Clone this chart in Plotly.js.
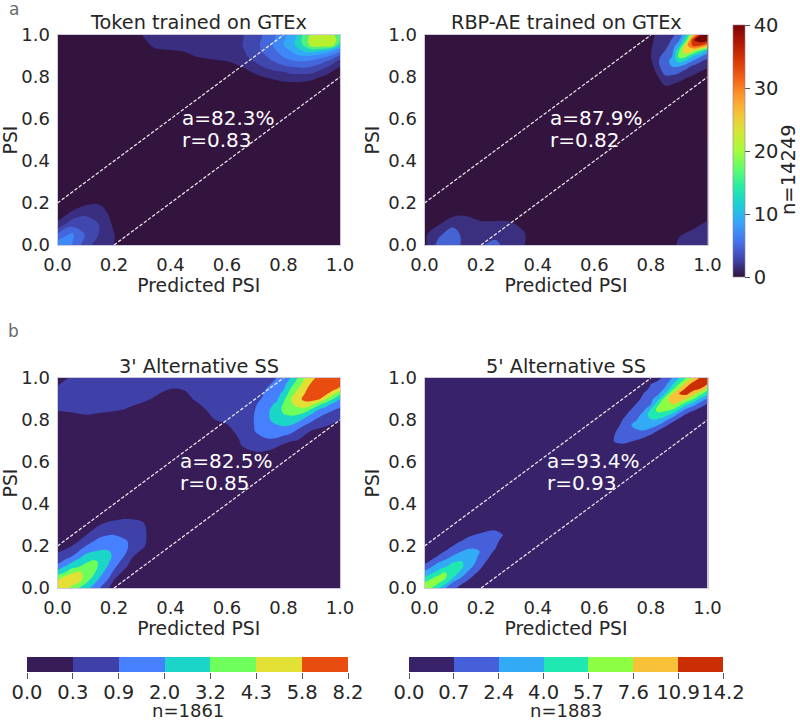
<!DOCTYPE html>
<html>
<head>
<meta charset="utf-8">
<script src="https://cdn.plot.ly/plotly-3.0.1.min.js"></script>
<style>html,body{margin:0;padding:0;background:#fff}#c{width:800px;height:721px}</style>
</head>
<body>
<div id="c"></div>
<script>
// Node positions of the coarse density grids (PSI)
const gridX = [0,.05,.1,.15,.2,.25,.3,.35,.4,.45,.5,.55,.6,.65,.7,.75,.8,.85,.9,.95,1];
const gridY = gridX;

// Density grids, bottom row first.
// Unit: position on the panel's own colour band scale (1 = first contour level, 2 = second ...).
const O = [0,0,0,0,0,0,0,0,0,0,0,0,0,0,0,0,0,0,0,0,0];
const tokenGTEx = [
 [4.6,4.0,2.4,1.4,1.0,0,0,0,0,0,0,0,0,0,0,0,0,0,0,0,0],
 [3.2,4.2,2.9,1.9,1.05,0,0,0,0,0,0,0,0,0,0,0,0,0,0,0,0],
 [1.2,2.6,2.9,1.9,.8,0,0,0,0,0,0,0,0,0,0,0,0,0,0,0,0],
 [.4,1.2,1.7,1.5,.6,0,0,0,0,0,0,0,0,0,0,0,0,0,0,0,0],
 [0,.3,.8,.9,.3,0,0,0,0,0,0,0,0,0,0,0,0,0,0,0,0],
 O,O,O,O,O,O,O,O,O,O,
 [0,0,0,0,0,0,0,0,0,0,0,0,0,0,.2,.4,.6,.5,.3,0,0],
 [0,0,0,0,0,0,0,0,0,0,0,0,.2,.5,.8,1.1,1.3,1.5,1.3,.8,.3],
 [0,0,0,0,0,0,0,0,0,.1,.3,.6,.8,1.0,1.5,1.9,1.9,1.9,1.9,1.9,1],
 [0,0,0,0,0,0,.2,.5,.6,.8,1.1,1.2,1.2,1.2,1.9,1.9,1.9,1.9,1.9,1.9,1.9],
 [0,0,0,0,0,.2,.7,1.2,1.3,1.3,1.3,1.3,1.3,1.4,1.9,1.9,1.9,1.9,1.9,1.9,1.9],
 [0,0,0,0,0,.4,1.0,1.3,1.3,1.3,1.3,1.3,1.3,1.4,1.9,1.9,1.9,1.9,1.9,1.9,1.9]
];
const rbpGTEx = [
 [.7,2.4,2.6,1.5,1.9,2.3,1.5,1.1,0,0,0,0,0,0,0,0,0,0,1.3,1.4,1.4],
 [.8,1.8,2.6,1.4,1.5,1.7,1.4,1.15,0,0,0,0,0,0,0,0,0,0,.9,1.3,1.4],
 [.2,.9,1.7,1.3,1.2,1.2,1.2,.7,0,0,0,0,0,0,0,0,0,0,.1,.7,1.2],
 [0,.1,.7,.9,.5,.5,.4,.1,0,0,0,0,0,0,0,0,0,0,0,.1,.6],
 O,O,O,O,O,O,O,O,O,O,O,
 [0,0,0,0,0,0,0,0,0,0,0,0,0,0,0,0,0,.8,.5,.1,0],
 [0,0,0,0,0,0,0,0,0,0,0,0,0,0,0,0,.1,1.8,1.4,.8,.4],
 [0,0,0,0,0,0,0,0,0,0,0,0,0,0,0,0,.8,1.9,1.9,1.8,1.1],
 [0,0,0,0,0,0,0,0,0,0,0,0,0,0,0,0,1.0,1.9,1.9,1.9,1.9],
 [0,0,0,0,0,0,0,0,0,0,0,0,0,0,0,0,.9,1.9,1.9,1.9,1.9],
 [0,0,0,0,0,0,0,0,0,0,0,0,0,0,0,0,.8,1.5,1.9,1.9,1.9]
];
const altSS3 = [
 [1.9,1.9,1.9,1.9,.5,.1,0,0,0,0,0,0,0,0,0,0,0,0,0,0,0],
 [1.9,1.9,1.9,1.9,1.15,.2,0,0,0,0,0,0,0,0,0,0,0,0,0,0,0],
 [1.9,1.9,1.9,1.9,1.9,.9,.2,0,0,0,0,0,0,0,0,0,0,0,0,0,0],
 [1.3,1.9,1.9,1.9,1.9,1.3,.5,0,0,0,0,0,0,0,0,0,0,0,0,0,0],
 [.5,1.0,1.9,1.9,1.9,1.9,1.2,.2,0,0,0,0,0,0,0,0,0,0,0,0,0],
 [.1,.4,1.0,1.5,1.9,1.7,1.3,.3,0,0,0,0,0,0,0,0,0,0,0,0,0],
 [0,0,.3,1.0,1.3,1.4,1.2,.2,0,0,0,0,0,0,0,0,0,0,0,0,0],
 [0,0,0,.2,.6,.7,.6,0,0,0,0,0,0,0,0,0,0,0,0,0,0],
 O,O,O,O,
 [0,0,0,0,0,0,0,0,0,0,0,0,0,0,.2,.3,.3,0,0,0,0],
 [0,0,0,0,0,0,0,0,0,0,0,0,0,.85,1.0,.9,.5,.3,0,0,0],
 [0,0,0,0,0,0,0,0,0,0,0,0,.1,1.1,1.5,1.8,1.2,.9,.3,.1,0],
 [0,0,0,0,0,0,0,0,0,0,0,.4,.7,1.4,1.9,1.9,1.9,1.9,1.0,.7,.3],
 [.6,.6,.8,.7,.5,.3,0,0,0,0,.5,.95,1.2,1.5,1.9,1.9,1.9,1.9,1.9,1.5,1.0],
 [1.05,1.15,1.2,1.15,1.1,.95,.7,.4,.2,.5,.8,1.2,1.3,1.5,1.9,1.9,1.9,1.9,1.9,1.9,1.9],
 [1.2,1.3,1.3,1.3,1.3,1.2,1.15,.9,.5,.8,1.15,1.3,1.3,1.5,1.8,1.9,1.9,1.9,1.9,1.9,1.9],
 [1.1,1.25,1.3,1.3,1.3,1.3,1.3,1.2,1.02,1.05,1.3,1.3,1.3,1.4,1.7,1.9,1.9,1.9,1.9,1.9,1.9],
 [.7,1.1,1.2,1.25,1.3,1.3,1.3,1.3,1.3,1.3,1.3,1.3,1.3,1.3,1.4,1.8,1.9,1.9,1.9,1.9,1.9]
];
const altSS5 = [O,O,O,O,O,O,O,O,O,O,O,O,O,
 [0,0,0,0,0,0,0,0,0,0,0,0,0,0,.2,0,0,0,0,0,0],
 O,O,O,O,O,O,O];

// Finer grids (step 0.025) for the densest regions, levels from `start` upward
const tokenHighX = [.625,.65,.675,.7,.725,.75,.775,.8,.825,.85,.875,.9,.925,.95,.975,1];
const tokenHighY = [.8,.825,.85,.875,.9,.925,.95,.975,1];
const tokenHigh = [
 [.8,1,1.2,1.3,1.4,1.5,1.6,1.7,1.7,1.6,1.5,1.5,1.3,1.05,.8,.4],
 [1,1.2,1.4,1.55,1.7,1.8,1.9,2,2.2,2.3,2.35,2.25,1.85,1.5,1.2,.9],
 [1.2,1.4,1.6,1.8,2,2.2,2.6,2.85,3.05,3.15,3.2,3,2.7,2.15,1.7,1.3],
 [1.3,1.6,1.85,2.05,2.4,2.8,3.15,3.5,3.85,4,4,3.8,3.5,3,2.3,1.7],
 [1.4,1.75,2.05,2.3,2.75,3.2,3.6,4.1,4.45,4.85,5,4.8,4.5,4.25,3.7,2.7],
 [1.4,1.85,2.15,2.5,3.1,3.5,4,4.6,5,5.6,6.2,6.5,6.2,5.7,5,4.3],
 [1.4,1.95,2.2,2.6,3.2,3.7,4.3,4.95,5.5,6.3,7.2,8.3,8.6,8.6,8.2,6],
 [1.4,1.9,2.2,2.6,3.1,3.6,4.2,4.9,5.5,6.3,7.7,8.4,8.7,8.7,8.4,7.6],
 [1.4,1.9,2.2,2.5,3,3.4,4,4.7,5.3,6.1,7.4,8.2,8.5,8.5,8.2,7.2]
];
const rbpHighX = [.8,.825,.85,.875,.9,.925,.95,.975,1];
const rbpHighY = [.775,.8,.825,.85,.875,.9,.925,.95,.975,1];
const rbpHigh = [
 [1.2,1.4,1.6,1.5,1.3,1,.8,.5,.2],
 [1.3,1.5,1.9,1.8,1.6,1.3,1,.7,.4],
 [1.4,1.7,2.2,2.35,2.15,1.6,1.4,1.1,.8],
 [1.5,1.8,2.5,3,3,2.4,1.75,1.5,1.1],
 [1.5,1.9,2.6,3.3,4.4,3.7,2.8,2.1,1.6],
 [1.5,1.8,2.3,3,5.4,5.3,4,3.2,2.4],
 [1.5,1.7,2,2.7,5,7,6,5,3.7],
 [1.5,1.6,1.7,2.4,3.7,6.7,8.3,8,7],
 [1.4,1.5,1.5,2.1,2.9,5,8.9,9.6,9.3],
 [1.3,1.4,1.2,1.8,2.4,4,6.5,9,9.6]
];
const ss3HighX = [.675,.7,.725,.75,.775,.8,.825,.85,.875,.9,.925,.95,.975,1];
const ss3HighY = [.7,.725,.75,.775,.8,.825,.85,.875,.9,.925,.95,.975,1];
const ss3High = [
 [1.5,1.6,1.8,1.85,1.8,1.6,1.4,1.2,1.1,1,.9,.9,.9,.9],
 [1.5,1.85,2.05,2.2,2.15,2,1.8,1.5,1.3,1.2,1,1,1,.9],
 [1.5,2.05,2.3,2.45,2.5,2.55,2.3,1.9,1.6,1.4,1.2,1,1,1],
 [1.5,2.1,2.5,2.75,2.95,3.1,3,2.5,2,1.7,1.4,1.3,1,1],
 [1.5,2.15,2.6,2.95,3.3,3.5,3.55,3.3,2.7,2.15,1.7,1.5,1.4,1.2],
 [1.5,2.1,2.6,3,3.6,3.95,4.1,4,3.5,2.85,2.3,1.85,1.65,1.5],
 [1.5,2,2.5,2.95,3.5,4.2,4.5,4.7,4.7,3.8,3,2.55,2.1,1.8],
 [1.5,1.9,2.3,2.8,3.15,4.1,4.8,5.3,5.6,5.3,4.3,3.5,2.75,2.4],
 [1.5,1.8,2.05,2.6,2.8,3.75,4.95,5.6,6.3,6.4,6.2,5,4,3],
 [1.5,1.7,1.9,2.4,2.6,3.3,4.4,5.4,6,6.6,6.6,6.3,5.2,4.25],
 [1.5,1.6,1.8,2.15,2.4,2.85,4,4.9,5.7,6.5,6.8,6.9,6.5,5.75],
 [1.5,1.5,1.7,1.9,2.2,2.6,3.5,4.4,5.35,6.1,6.6,7,7,6.7],
 [1.5,1.4,1.5,1.7,2,2.4,3,4,5,5.7,6.3,6.9,7,7]
];
const ss3LowX = [0,.025,.05,.075,.1,.125,.15,.175,.2,.225,.25,.275];
const ss3LowY = ss3LowX;
const ss3Low = [
 [5.6,5.5,4.8,4,3.4,2.7,2,1.3,.6,0,0,0],
 [5.3,5.7,5.3,5,4.1,3.3,2.5,1.8,1.1,.3,0,0],
 [4.6,5.3,5.6,5.5,4.6,3.9,3,2.25,1.5,.8,.3,0],
 [3.4,3.9,4.8,5.1,4.8,4.3,3.4,2.6,1.8,1.2,.7,.2],
 [2.4,3.1,3.7,4,4.5,4.5,3.75,3,2.2,1.5,1.1,.6],
 [1.7,2.2,2.9,3.4,3.8,4.2,3.9,3.3,2.5,1.9,1.4,1],
 [1.3,1.7,2,2.7,3.3,3.5,3.6,3.4,2.8,2.2,1.7,1.3],
 [1,1.3,1.6,2,2.7,2.95,3.1,3.1,2.85,2.45,1.9,1.5],
 [.6,1,1.3,1.6,2,2.45,2.6,2.7,2.7,2.5,2,1.5],
 [.3,.6,1,1.3,1.6,1.9,2.3,2.35,2.4,2.3,1.95,1.5],
 [.1,.3,.6,1,1.3,1.5,1.8,2,2.05,1.85,1.7,1.4],
 [0,.1,.2,.6,.9,1.2,1.4,1.5,1.6,1.5,1.4,1.2]
];
const ss5HighX = [.65,.675,.7,.725,.75,.775,.8,.825,.85,.875,.9,.925,.95,.975,1];
const ss5HighY = [.65,.675,.7,.725,.75,.775,.8,.825,.85,.875,.9,.925,.95,.975,1];
const ss5High = [
 [0,0,0,0,0,0,0,0,0,0,0,0,0,0,0],
 [0,.6,.8,.5,.3,0,0,0,0,0,0,0,0,0,0],
 [.5,1.15,1.2,1.1,.9,.7,.3,0,0,0,0,0,0,0,0],
 [.2,1.15,1.45,1.6,1.4,1.2,.85,.4,0,0,0,0,0,0,0],
 [0,.9,1.55,1.85,1.9,2,1.7,1,.5,.2,0,0,0,0,0],
 [0,.4,1.4,1.9,2.3,2.5,2.35,2,1.2,.6,.3,0,0,0,0],
 [0,0,1.05,1.7,2,2.8,2.9,2.85,2.25,1.4,.7,.4,0,0,0],
 [0,0,.6,1.3,1.6,2.4,3.5,3.65,3.4,2.7,1.6,.85,.4,0,0],
 [0,0,.2,.9,1.4,1.8,3.1,4.4,4.3,4,3,1.8,1.2,.7,.2],
 [0,0,0,.5,1.1,1.5,2,3.8,5,5,4.5,3.3,2.4,1.5,.9],
 [0,0,0,.1,.7,1.3,1.7,2.7,4.5,5.6,5.5,5,4,2.7,1.8],
 [0,0,0,0,.3,1.05,1.45,1.8,3,5,6,6.3,5.3,4.3,3.2],
 [0,0,0,0,0,.6,1.2,1.5,2.1,3.5,5,6.2,6.5,6,4.6],
 [0,0,0,0,0,.2,.95,1.2,1.6,2.7,3.9,5.3,6.3,6.7,6.3],
 [0,0,0,0,0,0,.6,.8,1.2,2,3,4,5,6.2,7]
];
const ss5LowX = [0,.025,.05,.075,.1,.125,.15,.175,.2,.225,.25,.275,.3];
const ss5LowY = ss5LowX;
const ss5Low = [
 [4.6,4,3,2,1.35,.7,.2,0,0,0,0,0,0],
 [4.1,4.5,4.1,3.3,1.9,1.3,.8,.3,0,0,0,0,0],
 [3.1,3.8,4.4,4.1,3.1,2.15,1.4,.75,.2,0,0,0,0],
 [2.2,2.7,3.4,4,3.7,2.85,2,1.25,.7,0,0,0,0],
 [1.35,2,2.6,3,3.5,3.4,2.5,1.85,1.1,.4,0,0,0],
 [.7,1.2,1.9,2.3,2.9,3.1,2.85,2.2,1.4,.8,0,0,0],
 [.3,.7,1.1,1.6,2.1,2.5,2.6,2.3,1.7,1.15,.4,0,0],
 [.1,.3,.7,1.05,1.5,1.9,2.2,2.2,1.95,1.4,.85,0,0],
 [0,.1,.3,.6,1,1.4,1.65,1.8,1.9,1.6,1.2,.1,0],
 [0,0,.1,.2,.5,.9,1.2,1.4,1.55,1.6,1.35,.7,.2],
 [0,0,0,0,.1,.4,.85,1.05,1.2,1.35,1.35,1.05,.6],
 [0,0,0,0,0,.1,.4,.6,.8,.95,.98,.85,.4],
 [0,0,0,0,0,0,0,.1,.3,.4,.4,.3,.1]
];

// Band colours of each panel, lowest band first
const bandsToken = ['#33143f','#3a2e80','#4048ad','#4468dc','#3f88f8','#33aaf5','#1fd4c0','#50f080','#b8f030'];
const bandsRbp   = ['#33143f','#3b3080','#4564d4','#33a8f5','#1fe0b5','#84fc50','#f5d035','#f8801f','#d0320a','#7a0403'];
const bands3     = ['#371c58','#3f41a8','#4680ff','#1bd6c8','#6fff5c','#e2e035','#e94c0f'];
const bands5     = ['#38236a','#4560d8','#33aaf5','#1fe8b0','#8cff45','#f8c238','#cc2e04'];

// Text
const panelTitles = ['Token trained on GTEx','RBP-AE trained on GTEx',"3' Alternative SS","5' Alternative SS"];
const accuracyText = ['a=82.3%','a=87.9%','a=82.5%','a=93.4%'];
const corrText = ['r=0.83','r=0.82','r=0.85','r=0.93'];
const tickVals = [0,.2,.4,.6,.8,1];
const tickText = ['0.0','0.2','0.4','0.6','0.8','1.0'];
const bar3Labels = ['0.0','0.3','0.9','2.0','3.2','4.3','5.8','8.2'];
const bar5Labels = ['0.0','0.7','2.4','4.0','5.7','7.6','10.9','14.2'];
const barPositions = [0,1,2,3,4,5,6,7];
const barCentres = [.5,1.5,2.5,3.5,4.5,5.5,6.5];
const upperBandX = [0,.8]; const upperBandY = [.2,1];
const lowerBandX = [.2,1]; const lowerBandY = [0,.8];
const turbo = ['#30123b','#4145ab','#4675ed','#39a2fc','#1bcfd4','#24eca6','#61fc6c','#a4fc3b','#d1e834','#f3c63a','#fe9b2d','#f36315','#d93806','#b11901','#7a0402'];

const W = 800, H = 721;
const FONT = 'DejaVu Sans', INK = '#262626';
const panels = [
  {g:tokenGTEx, b:bandsToken, l:57.5, r:340,   t:35,  bt:245, ax:0.44,
   fine:[{x:tokenHighX,y:tokenHighY,z:tokenHigh,start:2}]},
  {g:rbpGTEx,   b:bandsRbp,   l:424.5,r:707.5, t:35,  bt:245, ax:0.4435,
   fine:[{x:rbpHighX,y:rbpHighY,z:rbpHigh,start:2}]},
  {g:altSS3,    b:bands3,     l:57.5, r:340,   t:378, bt:588, ax:0.433,
   fine:[{x:ss3HighX,y:ss3HighY,z:ss3High,start:2},{x:ss3LowX,y:ss3LowY,z:ss3Low,start:2}]},
  {g:altSS5,    b:bands5,     l:424.5,r:707.5, t:378, bt:588, ax:0.432,
   fine:[{x:ss5HighX,y:ss5HighY,z:ss5High,start:1},{x:ss5LowX,y:ss5LowY,z:ss5Low,start:1}]}
];
const stops = c => c.map((col,i)=>[i/(c.length-1),col]);
const traces = [], annotations = [];
const layout = {width:W,height:H,margin:{l:0,r:0,t:0,b:0},paper_bgcolor:'#fff',plot_bgcolor:'#fff',
  showlegend:false,hovermode:false,font:{family:FONT,color:INK}};

panels.forEach((p,i)=>{
  const n = i+1, xa = 'x'+n, ya = 'y'+n;
  if(i===1){
    traces.push({type:'heatmap',xaxis:xa,yaxis:ya,x:[0,1],y:[0,1],z:[[0,0],[40,40]],zmin:0,zmax:40,
      colorscale:stops(turbo),showscale:true,hoverinfo:'skip',
      colorbar:{thicknessmode:'pixels',thickness:12,lenmode:'pixels',len:252,x:733/W,xanchor:'left',
        y:1-277/H,yanchor:'bottom',xpad:0,ypad:0,ticks:'outside',ticklen:5,tickwidth:1,tickcolor:'#555',
        tickvals:[0,10,20,30,40],ticktext:['0','10','20','30','40'],tickfont:{family:FONT,size:19.5,color:INK},
        outlinecolor:'#8d7f9c',outlinewidth:0.6}});
  }
  const nc = p.b.length-1;
  traces.push({type:'contour',xaxis:xa,yaxis:ya,x:gridX,y:gridY,z:p.g,autocontour:false,
    contours:{start:1,end:nc,size:1,coloring:'fill',showlines:false},
    colorscale:stops(p.b),showscale:false,line:{width:0,smoothing:1},hoverinfo:'skip'});
  p.fine.forEach(f=>{
    const cols = ['rgba(0,0,0,0)'].concat(p.b.slice(f.start));
    traces.push({type:'contour',xaxis:xa,yaxis:ya,x:f.x,y:f.y,z:f.z,autocontour:false,
      contours:{start:f.start,end:nc,size:1,coloring:'fill',showlines:false},
      colorscale:stops(cols),showscale:false,line:{width:0,smoothing:1.1},hoverinfo:'skip'});
  });
  [[upperBandX,upperBandY],[lowerBandX,lowerBandY]].forEach(d=>{
    traces.push({type:'scatter',mode:'lines',xaxis:xa,yaxis:ya,x:d[0],y:d[1],
      line:{color:'rgba(255,255,255,.92)',width:1.2,dash:'3.5px,1.8px'},hoverinfo:'skip'});
  });
  const common = {range:[0,1],tickmode:'array',tickvals:tickVals,ticktext:tickText,ticks:'outside',ticklen:3,
    tickcolor:'rgba(0,0,0,0)',tickfont:{family:FONT,size:18,color:INK},showgrid:false,zeroline:false,
    showline:true,mirror:true,linecolor:'#cfc9da',linewidth:1,fixedrange:true,automargin:false};
  layout['xaxis'+n] = Object.assign({},common,{anchor:ya,domain:[p.l/W,p.r/W],
    title:{text:'Predicted PSI',font:{family:FONT,size:18.8,color:INK},standoff:1}});
  layout['yaxis'+n] = Object.assign({},common,{anchor:xa,domain:[1-p.bt/H,1-p.t/H],
    title:{text:'PSI',font:{family:FONT,size:18.8,color:INK},standoff:3}});
  annotations.push({xref:'paper',yref:'paper',x:(p.l+p.r)/2/W,y:1-(p.t-12)/H,text:panelTitles[i],showarrow:false,
    xanchor:'center',yanchor:'middle',font:{family:FONT,size:19.3,color:INK}});
  annotations.push({xref:xa,yref:ya,x:p.ax,y:.603,text:accuracyText[i],showarrow:false,xanchor:'left',yanchor:'middle',
    xshift:-2,font:{family:FONT,size:20,color:'#fff'}});
  annotations.push({xref:xa,yref:ya,x:p.ax,y:.5,text:corrText[i],showarrow:false,xanchor:'left',yanchor:'middle',
    xshift:-2,font:{family:FONT,size:20,color:'#fff'}});
});

[[bands3,bar3Labels,27,348,'n=1861'],[bands5,bar5Labels,409,723,'n=1883']].forEach((c,j)=>{
  const n = j+5, xa='x'+n, ya='y'+n;
  const colors = c[0], k = colors.length;
  traces.push({type:'heatmap',xaxis:xa,yaxis:ya,x:barCentres,y:[0],z:[barCentres],zmin:0,zmax:7,
    colorscale:colors.flatMap((col,i)=>[[i/k,col],[(i+1)/k,col]]),showscale:false,hoverinfo:'skip',xgap:0});
  layout['xaxis'+n] = {anchor:ya,domain:[c[2]/W,c[3]/W],range:[0,7],tickmode:'array',tickvals:barPositions,ticktext:c[1],
    ticks:'outside',ticklen:6,tickwidth:1,tickcolor:'#555',tickangle:0,ticklabelstandoff:-3,tickfont:{family:FONT,size:19.5,color:INK},
    showgrid:false,zeroline:false,showline:false,fixedrange:true};
  layout['yaxis'+n] = {anchor:xa,domain:[1-672/H,1-657/H],range:[-.5,.5],showticklabels:false,ticks:'',showgrid:false,zeroline:false,fixedrange:true};
  annotations.push({xref:'paper',yref:'paper',x:(c[2]+c[3])/2/W,y:1-710/H,text:c[4],showarrow:false,xanchor:'center',yanchor:'middle',
    font:{family:FONT,size:18,color:INK}});
});

annotations.push({xref:'paper',yref:'paper',x:7/W,y:1-9/H,text:'a',showarrow:false,xanchor:'left',yanchor:'middle',font:{family:FONT,size:17,color:'#6b6b6b'}});
annotations.push({xref:'paper',yref:'paper',x:6/W,y:1-331/H,text:'b',showarrow:false,xanchor:'left',yanchor:'middle',font:{family:FONT,size:17,color:'#6b6b6b'}});
annotations.push({xref:'paper',yref:'paper',x:788/W,y:1-170/H,text:'n=14249',showarrow:false,textangle:-90,xanchor:'center',yanchor:'middle',font:{family:FONT,size:19.5,color:INK}});
layout.annotations = annotations;

Plotly.newPlot('c',traces,layout,{displayModeBar:false,staticPlot:true});
</script>
</body>
</html>
